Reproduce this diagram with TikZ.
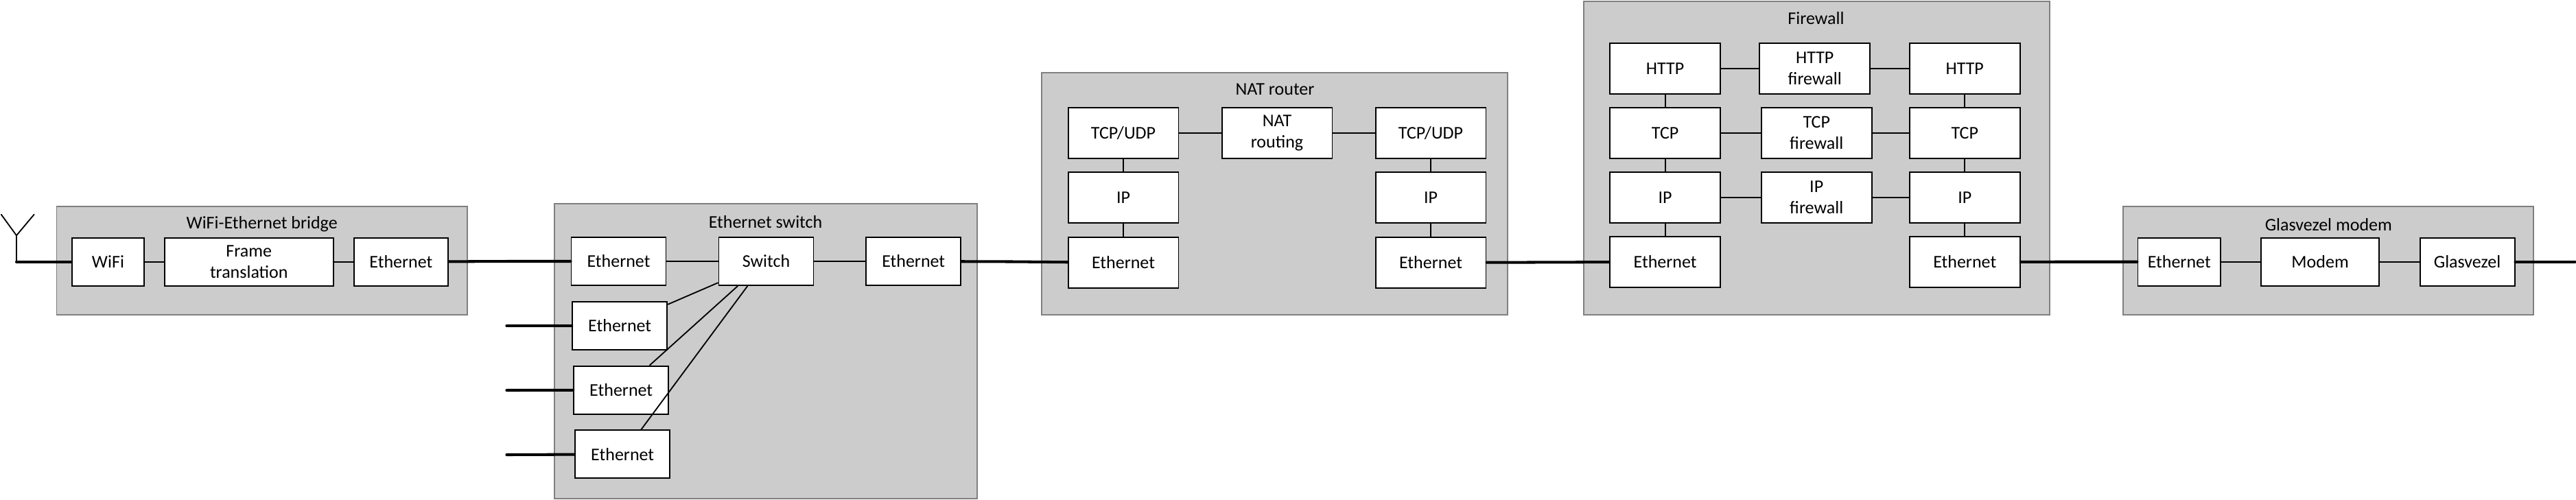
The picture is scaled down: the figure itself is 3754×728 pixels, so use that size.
\documentclass[tikz,border=0pt]{standalone}
\usepackage{fontspec}
\setmainfont{Carlito}
\usetikzlibrary{positioning}
\tikzset{
    device/.style={rectangle, draw=black!50, fill=black!20, line width=1.1pt},
    title/.style={inner sep=0pt},
    cell/.style={rectangle, draw, fill=white, line width=1.1pt, align=center, inner sep=0pt, minimum width=2.76cm, minimum height=1.4cm},
    tall/.style={cell, minimum height=1.49cm, minimum width=3.22cm},
    link/.style={draw, line width=1.05pt},
    wire/.style={draw, line width=2.3pt, line cap=round}
}

\begin{document}
\begin{tikzpicture}[x=0.02cm, y=-0.02cm, every node/.append style={font=\fontsize{14.8}{17.4}\selectfont}]
    \useasboundingbox (0,0) rectangle (3754,728);

    % Devices
    \node[device, minimum width=11.97cm, minimum height=3.17cm] (bridge) at (381.7,380) {};
    \node[device, minimum width=12.33cm, minimum height=8.6cm] (switch) at (1116,511.7) {};
    \node[device, minimum width=13.58cm, minimum height=7.06cm] (nat) at (1857.4,282.2) {};
    \node[device, minimum width=13.58cm, minimum height=9.15cm] (firewall) at (2647.5,230.4) {};
    \node[device, minimum width=11.97cm, minimum height=3.17cm] (modem) at (3393.1,380) {};

    \node[title] (bridgeT) at (381.7,326.7) {WiFi-Ethernet bridge};
    \node[title] (switchT) at (1115.5,323.3) {Ethernet switch};
    \node[title] (natT) at (1858,130.7) {NAT router};
    \node[title] (firewallT) at (2646.5,26.7) {Firewall};
    \node[title] (modemT) at (3393.3,327.3) {Glasvezel modem};

    % Free ends
    \coordinate (antBase) at (24,381.7);
    \coordinate (antFork) at (24,343.3);
    \coordinate (antL) at (1.5,312.3);
    \coordinate (antR) at (50,312.3);
    \coordinate (joinA) at (740,381);
    \coordinate (joinB) at (1475,381.5);
    \coordinate (portB) at (738.4,475);
    \coordinate (portC) at (738.4,569);
    \coordinate (portD) at (738.4,663);
    \coordinate (fibre) at (3752.5,381.7);

    % Bridge
    \node[cell, minimum width=2.11cm] (brgWifi) at (157.5,381.7) {WiFi};
    \node[cell, minimum width=4.93cm] (brgFrame) at (362.8,381.7) {Frame\\translation};
    \node[cell, minimum width=2.74cm] (brgEth) at (584.4,381.7) {Ethernet};

    % Switch
    \node[cell] (swEthA) at (901.5,381) {Ethernet};
    \node[cell] (swCore) at (1116.5,381) {Switch};
    \node[cell] (swEthOut) at (1331.2,381) {Ethernet};
    \node[cell] (swEthB) at (903.2,475) {Ethernet};
    \node[cell] (swEthC) at (905.2,568.7) {Ethernet};
    \node[cell] (swEthD) at (907.2,662.3) {Ethernet};

    % NAT router
    \node[tall] (natTcpA) at (1637,194) {TCP/UDP};
    \node[tall] (natIpA) at (1637,288) {IP};
    \node[tall] (natEthA) at (1637,383) {Ethernet};
    \node[tall] (natRoute) at (1861,194) {NAT\\routing};
    \node[tall] (natTcpB) at (2085,194) {TCP/UDP};
    \node[tall] (natIpB) at (2085,288) {IP};
    \node[tall] (natEthB) at (2085,383) {Ethernet};

    % Firewall
    \node[tall] (fwHttpA) at (2426.6,99.8) {HTTP};
    \node[tall] (fwTcpA) at (2426.6,193.8) {TCP};
    \node[tall] (fwIpA) at (2426.6,287.8) {IP};
    \node[tall] (fwEthA) at (2426.6,381.8) {Ethernet};
    \node[tall] (fwHttpM) at (2644.7,99.8) {HTTP\\firewall};
    \node[tall] (fwTcpM) at (2647.2,193.8) {TCP\\firewall};
    \node[tall] (fwIpM) at (2647.2,287.8) {IP\\firewall};
    \node[tall] (fwHttpB) at (2863.2,99.8) {HTTP};
    \node[tall] (fwTcpB) at (2863.2,193.8) {TCP};
    \node[tall] (fwIpB) at (2863.2,287.8) {IP};
    \node[tall] (fwEthB) at (2863.2,381.8) {Ethernet};

    % Modem
    \node[cell, minimum width=2.41cm] (modEth) at (3175.7,381.7) {Ethernet};
    \node[cell, minimum width=3.43cm] (modCore) at (3381.1,381.7) {Modem};
    \node[cell] (modGlas) at (3595.5,381.7) {Glasvezel};

    % Antenna
    \draw[link] (antL) -- (antFork) -- (antR);
    \draw[link] (antFork) -- (antBase);

    % Inner links
    \draw[link] (brgWifi) -- (brgFrame);
    \draw[link] (brgFrame) -- (brgEth);
    \draw[link] (swEthA) -- (swCore);
    \draw[link] (swCore) -- (swEthOut);
    \draw[link] (swEthB.24) -- (swCore.204);
    \draw[link] (swEthC.41) -- (swCore.221);
    \draw[link] (swEthD.53) -- (swCore.233);
    \draw[link] (natTcpA) -- (natIpA);
    \draw[link] (natIpA) -- (natEthA);
    \draw[link] (natTcpA) -- (natRoute);
    \draw[link] (natRoute) -- (natTcpB);
    \draw[link] (natTcpB) -- (natIpB);
    \draw[link] (natIpB) -- (natEthB);
    \draw[link] (fwHttpA) -- (fwTcpA);
    \draw[link] (fwTcpA) -- (fwIpA);
    \draw[link] (fwIpA) -- (fwEthA);
    \draw[link] (fwHttpB) -- (fwTcpB);
    \draw[link] (fwTcpB) -- (fwIpB);
    \draw[link] (fwIpB) -- (fwEthB);
    \draw[link] (fwHttpA) -- (fwHttpM);
    \draw[link] (fwHttpM) -- (fwHttpB);
    \draw[link] (fwTcpA) -- (fwTcpM);
    \draw[link] (fwTcpM) -- (fwTcpB);
    \draw[link] (fwIpA) -- (fwIpM);
    \draw[link] (fwIpM) -- (fwIpB);
    \draw[link] (modEth) -- (modCore);
    \draw[link] (modCore) -- (modGlas);

    % Cables
    \draw[wire] (antBase) -- (brgWifi);
    \draw[wire] (brgEth) -- (joinA) -- (swEthA);
    \draw[wire] (portB) -- (swEthB);
    \draw[wire] (portC) -- (swEthC);
    \draw[wire] (portD) -- (swEthD);
    \draw[wire] (swEthOut) -- (joinB) -- (natEthA);
    \draw[wire] (natEthB) -- (fwEthA);
    \draw[wire] (fwEthB) -- (modEth);
    \draw[wire] (modGlas) -- (fibre);
\end{tikzpicture}
\end{document}
